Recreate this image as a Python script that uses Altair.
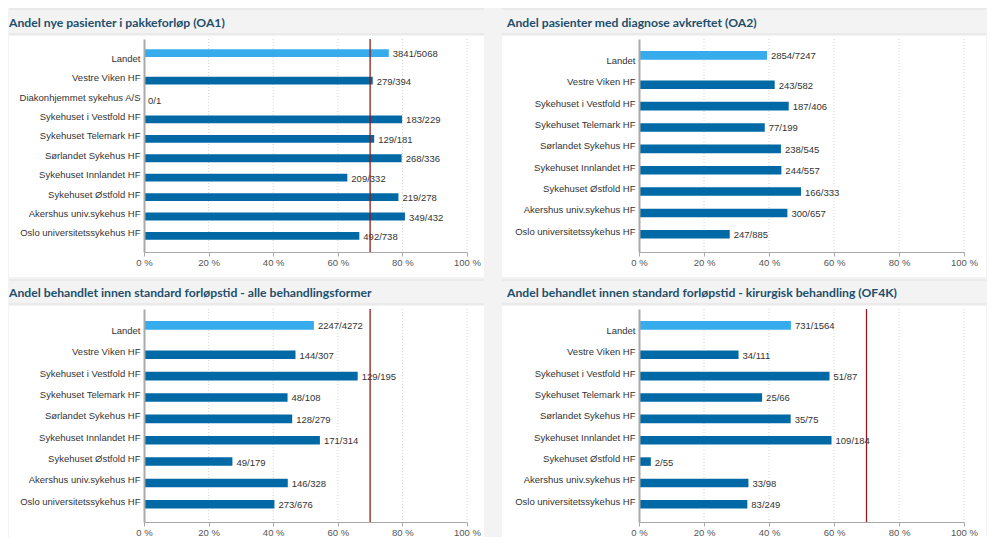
import altair as alt
import pandas as pd

# ---------------- data ----------------
titles = [
    "Andel nye pasienter i pakkeforløp (OA1)",
    "Andel pasienter med diagnose avkreftet (OA2)",
    "Andel behandlet innen standard forløpstid - alle behandlingsformer",
    "Andel behandlet innen standard forløpstid - kirurgisk behandling (OF4K)",
]

names1 = ["Landet", "Vestre Viken HF", "Diakonhjemmet sykehus A/S", "Sykehuset i Vestfold HF",
          "Sykehuset Telemark HF", "Sørlandet Sykehus HF", "Sykehuset Innlandet HF",
          "Sykehuset Østfold HF", "Akershus univ.sykehus HF", "Oslo universitetssykehus HF"]
num1 = [3841, 279, 0, 183, 129, 268, 209, 219, 349, 492]
den1 = [5068, 394, 1, 229, 181, 336, 332, 278, 432, 738]

names2 = ["Landet", "Vestre Viken HF", "Sykehuset i Vestfold HF", "Sykehuset Telemark HF",
          "Sørlandet Sykehus HF", "Sykehuset Innlandet HF", "Sykehuset Østfold HF",
          "Akershus univ.sykehus HF", "Oslo universitetssykehus HF"]
num2 = [2854, 243, 187, 77, 238, 244, 166, 300, 247]
den2 = [7247, 582, 406, 199, 545, 557, 333, 657, 885]

names3 = names2
num3 = [2247, 144, 129, 48, 128, 171, 49, 146, 273]
den3 = [4272, 307, 195, 108, 279, 314, 179, 328, 676]

names4 = names2
num4 = [731, 34, 51, 25, 35, 109, 2, 33, 83]
den4 = [1564, 111, 87, 66, 75, 184, 55, 98, 249]

targets = [70, None, 70, 70]
x_ticks = [0, 20, 40, 60, 80, 100]
grid_ticks = [20, 40, 60, 80, 100]

# ---------------- style ----------------
DARK = "#0069a6"
LIGHT = "#36acec"
TARGET = "#8c1c1c"
TITLE_COLOR = "#1d4e6c"
BG = "#f3f3f3"
SEP = "#e1e1e1"
LABEL_FONT = "Liberation Sans"
TITLE_FONT = "Lato"


def panel(title, names, num, den, target, width, height, left, right, bottom_pad,
          band_top, band_bot, title_dx):
    df = pd.DataFrame({"name": names, "num": num, "den": den})
    df["pct"] = df["num"] / df["den"] * 100
    df["label"] = df["num"].astype(str) + "/" + df["den"].astype(str)

    xs = alt.Scale(domain=[0, 100], nice=False, zero=True)
    xa = alt.Axis(values=x_ticks, labelExpr="datum.value + ' %'", grid=False,
                  domainColor="#a9a9a9", tickColor="#a9a9a9", tickSize=4,
                  labelColor="#555555", labelFontSize=9.5, labelFont=LABEL_FONT,
                  labelPadding=1, labelFlush=False, labelOverlap=False,
                  zindex=1, title=None)
    ys = alt.Scale(domain=names, paddingInner=0.6, paddingOuter=0.785, align=0.6)
    ya = alt.Axis(ticks=False, domainColor="#a9a9a9", domainWidth=2, labelColor="#333333",
                  labelFontSize=9.5, labelFont=LABEL_FONT, labelPadding=4, labelLimit=250,
                  labelOffset=-2.5, zindex=1, title=None, grid=False)

    X = alt.X("pct:Q", scale=xs, axis=xa)
    Y = alt.Y("name:N", scale=ys, axis=ya, sort=names)

    base = alt.Chart(df)
    one = pd.DataFrame({"t": [title]})

    panel_bg = alt.Chart(one).mark_rect(color="white").encode(
        x=alt.value(-left), x2=alt.value(width + right),
        y=alt.value(-3), y2=alt.value(height + bottom_pad))
    sep_top = alt.Chart(one).mark_rule(color=SEP, strokeWidth=1).encode(
        x=alt.value(-left), x2=alt.value(width + right), y=alt.value(band_top))
    sep_bot = alt.Chart(one).mark_rule(color=SEP, strokeWidth=1).encode(
        x=alt.value(-left), x2=alt.value(width + right), y=alt.value(band_bot))
    title_txt = alt.Chart(one).mark_text(
        align="left", baseline="alphabetic", font=TITLE_FONT, fontWeight="bold",
        fontSize=12.2, color=TITLE_COLOR).encode(
        text="t:N", x=alt.value(-left + title_dx), y=alt.value(-12))

    grid = alt.Chart(pd.DataFrame({"g": grid_ticks})).mark_rule(
        color="#d4d4d4", strokeDash=[1, 2], strokeWidth=1).encode(
        x=alt.X("g:Q", scale=xs, axis=xa), y=alt.value(0), y2=alt.value(height))

    bars = base.transform_filter("datum.name != 'Landet'").mark_bar(color=DARK).encode(x=X, y=Y)
    land = base.transform_filter("datum.name == 'Landet'").mark_bar(color=LIGHT, yOffset=-8).encode(x=X, y=Y)
    txt = base.transform_filter("datum.name != 'Landet'").mark_text(
        align="left", baseline="middle", dx=4, dy=1, fontSize=9.5, font=LABEL_FONT,
        color="#333333").encode(x=X, y=Y, text="label:N")
    ltxt = base.transform_filter("datum.name == 'Landet'").mark_text(
        align="left", baseline="middle", dx=4, dy=1, fontSize=9.5, font=LABEL_FONT,
        color="#333333", yOffset=-8).encode(x=X, y=Y, text="label:N")

    layers = [panel_bg, sep_top, sep_bot, title_txt, grid, bars, land, txt, ltxt]
    if target is not None:
        rule = alt.Chart(pd.DataFrame({"target": [target]})).mark_rule(
            color=TARGET, strokeWidth=1.3).encode(
            x=alt.X("target:Q", scale=xs, axis=xa), y=alt.value(0), y2=alt.value(height))
        layers.append(rule)
    return alt.layer(*layers).properties(width=width, height=height)


H = 213
p1 = panel(titles[0], names1, num1, den1, targets[0], 323, H, 135, 17, 25, -30, -5, 0)
p2 = panel(titles[1], names2, num2, den2, targets[1], 325, H, 137, 22, 25, -30, -5, 5)
p3 = panel(titles[2], names3, num3, den3, targets[2], 323, H, 135, 17, 15, -29, -5, 0)
p4 = panel(titles[3], names4, num4, den4, targets[3], 325, H, 137, 22, 15, -29, -5, 5)

chart = alt.concat(p1, p2, p3, p4, columns=2, spacing={"row": 57, "column": 172},
                   bounds="flush").properties(
    padding=0, background=BG).configure_view(strokeWidth=0)

chart.save("out.html", embed_options={"renderer": "svg", "actions": False})
